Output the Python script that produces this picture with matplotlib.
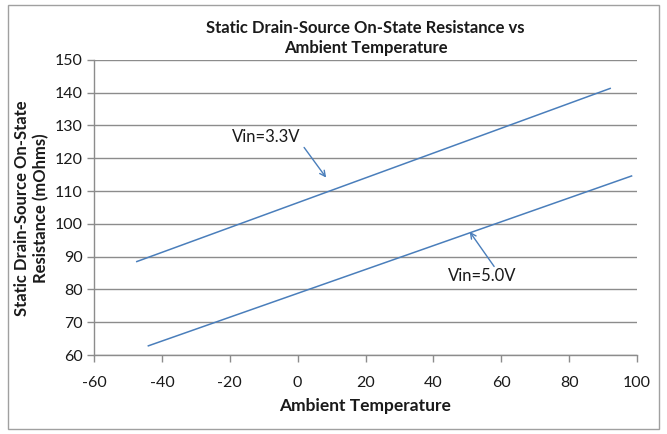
import matplotlib
matplotlib.use('Agg')
import matplotlib.pyplot as plt
from matplotlib.patches import Rectangle

plt.rcParams['font.family'] = ['Lato', 'DejaVu Sans']
plt.rcParams['axes.unicode_minus'] = False

# data
temp_33 = [-47.4, 92.1]
res_33 = [88.5, 141.3]
temp_50 = [-44.0, 98.4]
res_50 = [62.8, 114.6]

x_ticks = [-60, -40, -20, 0, 20, 40, 60, 80, 100]
y_ticks = [60, 70, 80, 90, 100, 110, 120, 130, 140, 150]

line_col = '#4a7ebb'
grid_col = '#8c8c8c'
txt_col = '#1a1a1a'

fig = plt.figure(figsize=(6.67, 4.34), dpi=100)
ax = fig.add_axes([0.141, 0.182, 0.814, 0.680])

ax.plot(temp_33, res_33, color=line_col, lw=1.1)
ax.plot(temp_50, res_50, color=line_col, lw=1.1)

ax.set_xlim(-60, 100)
ax.set_ylim(60, 150)
ax.set_xticks(x_ticks)
ax.set_yticks(y_ticks)
ax.yaxis.grid(True, color=grid_col, lw=1.0)
ax.set_axisbelow(True)
for s in ['top', 'right']:
    ax.spines[s].set_visible(False)
for s in ['left', 'bottom']:
    ax.spines[s].set_color(grid_col)
    ax.spines[s].set_linewidth(1.0)
ax.tick_params(axis='both', colors=grid_col, labelcolor=txt_col, labelsize=11.5, length=5, width=1)
ax.tick_params(axis='x', pad=10)
ax.tick_params(axis='y', pad=3)

# annotations: label text and arrow drawn separately
ax.text(-9.2, 126.6, 'Vin=3.3V', ha='center', va='center', fontsize=12, color=txt_col)
ax.annotate('', xy=(8.4, 114.1), xytext=(1.9, 123.3),
            arrowprops=dict(arrowstyle='->', color=line_col, lw=1.0, shrinkA=0, shrinkB=0))
ax.text(54.5, 84.2, 'Vin=5.0V', ha='center', va='center', fontsize=12, color=txt_col)
ax.annotate('', xy=(50.7, 97.6), xytext=(57.9, 87.0),
            arrowprops=dict(arrowstyle='->', color=line_col, lw=1.0, shrinkA=0, shrinkB=0))

fig.text(0.548, 0.912, 'Static Drain-Source On-State Resistance vs\nAmbient Temperature',
         ha='center', va='center', fontsize=12, fontweight='bold', linespacing=1.35, color=txt_col)
ax.set_xlabel('Ambient Temperature', fontsize=12.5, fontweight='bold', labelpad=6, color=txt_col)
fig.text(0.047, 0.52, 'Static Drain-Source On-State\nResistance (mOhms)', rotation=90,
         ha='center', va='center', fontsize=12, fontweight='bold', linespacing=1.2, color=txt_col)

# chart border
fig.patches.append(Rectangle((0.012, 0.012), 0.976, 0.976, transform=fig.transFigure,
                             fill=False, edgecolor='#a0a0a0', lw=1.0))

fig.savefig('out.png', dpi=100)
